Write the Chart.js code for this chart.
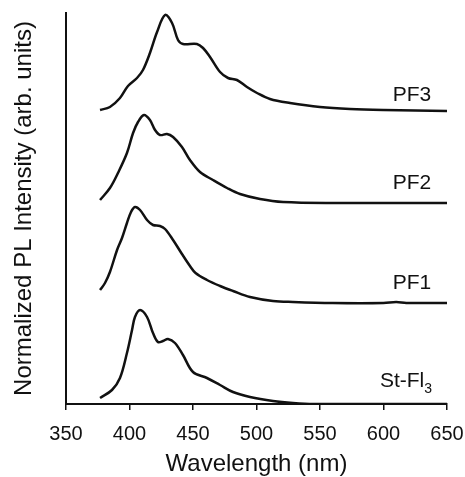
<!DOCTYPE html>
<html>
<head>
<meta charset="utf-8">
<script src="https://cdn.jsdelivr.net/npm/chart.js@4"></script>
<style>
  body { margin: 0; background: #fff; }
  #wrap { width: 465px; height: 477px; position: relative; }
</style>
</head>
<body>
<div id="wrap"><canvas id="grafico"></canvas></div>
<script>
// wavelength (nm) and normalized PL intensity (arb. units, curves stacked with offsets)
const pf3Wl  = [376.8, 384.6, 392.5, 398.8, 405.9, 410.6, 416.1, 421.7, 428, 433.5, 438.2, 442.1, 453.1, 457.9, 463.4, 471.3, 477.6, 484.6, 492.5, 500.4, 510.6, 526.4, 550, 573.6, 600, 650];
const pf3Int = [2.94, 2.97, 3.06, 3.18, 3.26, 3.34, 3.51, 3.72, 3.89, 3.81, 3.64, 3.60, 3.60, 3.56, 3.47, 3.32, 3.26, 3.24, 3.17, 3.11, 3.05, 3.01, 2.97, 2.95, 2.94, 2.93];

const pf2Wl  = [376.8, 384.6, 390.9, 398, 402.8, 406.7, 411.4, 416.1, 420.1, 424, 429.5, 434.3, 441.3, 447.6, 455.5, 465.7, 476.8, 487, 502.8, 520.9, 560.2, 650];
const pf2Int = [2.04, 2.16, 2.31, 2.51, 2.71, 2.82, 2.89, 2.84, 2.74, 2.69, 2.70, 2.67, 2.57, 2.44, 2.32, 2.24, 2.16, 2.10, 2.05, 2.02, 2.01, 2.01];

const pf1Wl  = [376.8, 380.7, 384.6, 390.2, 394.1, 398, 401.2, 404.3, 408.3, 413.8, 418.5, 424, 428, 434.3, 441.3, 447.6, 452, 461, 471.3, 481.5, 494.9, 513, 528.7, 560, 600, 610, 618, 650];
const pf1Int = [1.14, 1.21, 1.32, 1.54, 1.66, 1.81, 1.92, 1.97, 1.94, 1.84, 1.79, 1.78, 1.75, 1.64, 1.50, 1.38, 1.31, 1.24, 1.18, 1.13, 1.07, 1.03, 1.02, 1.01, 1.01, 1.02, 1.01, 1.01];

const stWl  = [376.8, 386.2, 392.5, 398, 402, 404.3, 408.3, 413.8, 418.5, 422.4, 426.4, 430.3, 435.8, 442.1, 450, 461, 471.3, 481.5, 494.9, 513, 528.7, 545, 650];
const stInt = [0.06, 0.14, 0.26, 0.51, 0.74, 0.87, 0.94, 0.87, 0.71, 0.62, 0.63, 0.65, 0.61, 0.49, 0.32, 0.26, 0.19, 0.12, 0.07, 0.03, 0.01, 0.0, 0.0];

const xTicks = [350, 400, 450, 500, 550, 600, 650];

// curve names, placed in data units next to each baseline
const curveLabels = [
  { text: 'PF3', x: 622.4, y: 3.09 },
  { text: 'PF2', x: 622.4, y: 2.21 },
  { text: 'PF1', x: 622.4, y: 1.21 },
  { text: 'St-Fl', sub: '3', x: 638.2, y: 0.23 }
];

const FONT = "'Liberation Sans', Arial, sans-serif";
const INK = '#111';

function pontos(xs, ys) {
  return xs.map((x, i) => ({ x: x, y: ys[i] }));
}

function serie(nome, xs, ys) {
  return {
    label: nome,
    data: pontos(xs, ys),
    borderColor: INK,
    borderWidth: 2.5,
    pointRadius: 0,
    fill: false,
    tension: 0.35
  };
}

// writes the curve names beside the curves
const rotulos = {
  id: 'rotulos',
  afterDatasetsDraw(chart) {
    const { ctx, scales: { x, y } } = chart;
    ctx.save();
    ctx.fillStyle = INK;
    ctx.textBaseline = 'middle';
    curveLabels.forEach(l => {
      const px = x.getPixelForValue(l.x);
      const py = y.getPixelForValue(l.y);
      ctx.font = '21px ' + FONT;
      if (l.sub) {
        ctx.font = '14px ' + FONT;
        ctx.textAlign = 'right';
        const w = ctx.measureText(l.sub).width;
        ctx.fillText(l.sub, px, py + 8);
        ctx.font = '21px ' + FONT;
        ctx.fillText(l.text, px - w, py);
      } else {
        ctx.textAlign = 'center';
        ctx.fillText(l.text, px, py);
      }
    });
    ctx.restore();
  }
};

new Chart(document.getElementById('grafico'), {
  type: 'line',
  data: {
    datasets: [
      serie('PF3', pf3Wl, pf3Int),
      serie('PF2', pf2Wl, pf2Int),
      serie('PF1', pf1Wl, pf1Int),
      serie('St-Fl3', stWl, stInt)
    ]
  },
  options: {
    responsive: true,
    maintainAspectRatio: false,
    animation: false,
    layout: { padding: { top: 13, right: 18, left: 0, bottom: 0 } },
    plugins: { legend: { display: false }, tooltip: { enabled: false } },
    scales: {
      x: {
        type: 'linear',
        min: 350,
        max: 650,
        afterBuildTicks: s => { s.ticks = xTicks.map(v => ({ value: v })); },
        afterFit: s => { s.height = 73; s.paddingLeft = 0; s.paddingRight = 0; },
        grid: { display: true, drawOnChartArea: false, drawTicks: true, tickLength: 6, color: INK, lineWidth: 1.5 },
        border: { display: true, color: INK, width: 2 },
        ticks: { color: INK, font: { family: FONT, size: 20 }, padding: 12, maxRotation: 0 },
        title: { display: true, text: 'Wavelength (nm)', color: INK, font: { family: FONT, size: 24 }, padding: { top: 0, bottom: -2 } }
      },
      y: {
        min: 0,
        max: 3.91,
        afterFit: s => { s.width = 66; },
        grid: { display: false },
        border: { display: true, color: INK, width: 2 },
        ticks: { display: false },
        title: { display: true, text: 'Normalized PL Intensity (arb. units)', color: INK, font: { family: FONT, size: 24 }, padding: { top: 10, bottom: 0 } }
      }
    }
  },
  plugins: [rotulos]
});
</script>
</body>
</html>
